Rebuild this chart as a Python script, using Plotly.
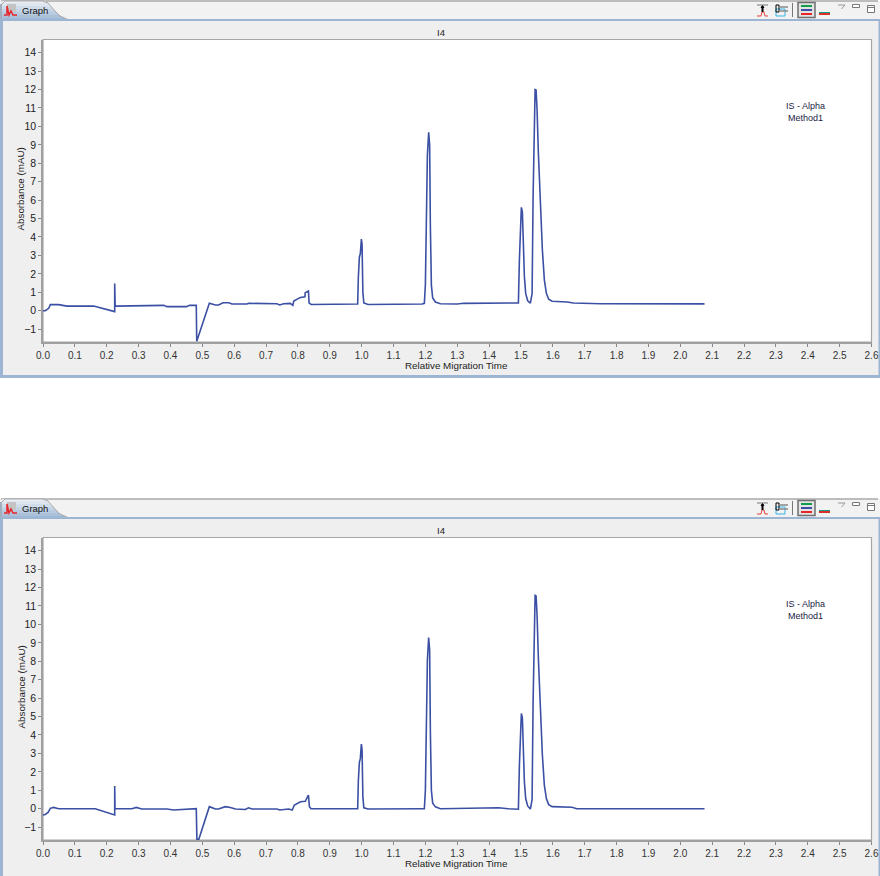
import plotly.graph_objects as go

W, H = 880, 876
OFFSET = 498
FONT = "Liberation Sans"
LINE = "#3b50a4"

title = "I4"
x_title = "Relative Migration Time"
y_title = "Absorbance (mAU)"
legend_lines = ["IS - Alpha", "Method1"]
x_ticks = [round(i * 0.1, 1) for i in range(27)]
y_ticks = list(range(-1, 15))

x_upper = [0, .007, .018, .023, .049, .075, .159, .222, .225, .225, .2265, .379, .389, .45, .46, .481, .4825, .522,
           .541, .551, .565, .583, .593, .64, .645, .734, .743, .755, .776, .784, .787, .802, .808, .822, .823, .833,
           .835, .841, .986,
           .9875, .9896, .9928, .9959, .9991, 1.0013, 1.0038, 1.0069, 1.02, 1.19,
           1.1968, 1.2, 1.2031, 1.2063, 1.2103, 1.2134, 1.2156, 1.2188, 1.2229, 1.2314, 1.2471,
           1.30, 1.32, 1.45,
           1.4919, 1.495, 1.4981, 1.5012, 1.5044, 1.5066, 1.5107, 1.5148, 1.521, 1.5295, 1.5349, 1.538, 1.5411, 1.5443,
           1.5474, 1.5505, 1.5546, 1.5609, 1.5672, 1.5734, 1.5797, 1.5869, 1.5976,
           1.6447, 1.6644, 1.75, 2.076]
y_upper = [0, 0, .13, .33, .33, .25, .25, -.05, -.05, 1.48, .25, .29, .22, .22, .29, .29, -1.66, .40,
           .31, .31, .43, .43, .36, .36, .40, .38, .31, .38, .40, .29, .52, .67, .72, .76, .98, 1.07,
           .43, .34, .36,
           .36, 1.8, 2.9, 3.1, 3.89, 3.6, 1.0, .42, .34, .36,
           .40, 1.39, 6.46, 8.45, 9.68, 8.99, 4.65, 1.39, .69, .47, .38,
           .36, .40, .40,
           .42, 2.75, 4.92, 5.61, 5.37, 4.0, 1.85, .94, .54, .41, .94, 6.18, 10.7, 12.0,
           11.97, 10.9, 8.55, 5.64, 3.29, 1.66, .94, .62, .51,
           .47, .42, .38, .37]

x_lower = [0, .007, .016, .023, .033, .049, .164, .225, .225, .226, .279, .293, .31, .389, .41, .441, .462, .481, .483,
           .489, .522, .541, .551, .572, .588, .604, .635, .645, .656, .734, .743, .771, .782, .789, .808, .823, .833,
           .836, .841, .986,
           .9875, .9896, .9928, .9959, .9991, 1.0013, 1.0038, 1.0069, 1.02, 1.19,
           1.1968, 1.2, 1.2031, 1.2063, 1.2103, 1.2134, 1.2156, 1.2188, 1.2229, 1.2314, 1.2471,
           1.345, 1.37, 1.385, 1.43, 1.46,
           1.4919, 1.495, 1.4981, 1.5012, 1.5044, 1.5066, 1.5107, 1.5148, 1.521, 1.5295, 1.5349, 1.538, 1.5411, 1.5443,
           1.5474, 1.5505, 1.5546, 1.5609, 1.5672, 1.5734, 1.5797, 1.5869, 1.5976,
           1.66, 1.675, 2.076]
y_lower = [-.34, -.31, -.2, .02, .07, 0, 0, -.34, 1.23, 0, 0, .07, -.02, -.02, -.07, -.05, 0, 0, -1.66,
           -1.66, .11, -.02, -.02, .11, .07, -.02, -.04, .05, -.02, -.02, -.07, -.02, -.07, .2, .38, .4, .74,
           .11, 0, 0,
           0, 1.5, 2.5, 2.73, 3.51, 3.2, .65, .05, -.02, 0,
           0, 1.0, 6.07, 8.06, 9.29, 8.6, 4.26, 1.0, .3, .1, 0,
           .03, 0, .03, .05, 0,
           -.03, 2.35, 4.5, 5.17, 4.93, 3.6, 1.45, .55, .15, -.02, .5, 5.78, 10.3, 11.57,
           11.54, 10.5, 8.15, 5.24, 2.9, 1.26, .55, .22, .11,
           .08, 0, 0]


def px_x(p):
    return p / W


def px_y(p):
    return 1 - p / H


shapes, annotations = [], []


def rect(x0, y0, x1, y1, fill=None, line=None, lw=1):
    shapes.append(dict(type="rect", xref="paper", yref="paper", x0=px_x(x0), x1=px_x(x1), y0=px_y(y0), y1=px_y(y1),
                       fillcolor=fill or "rgba(0,0,0,0)", line=dict(color=line or "rgba(0,0,0,0)", width=lw if line else 0),
                       layer="below"))


def poly(points, fill=None, line=None, lw=1):
    d = "M" + " L".join(f"{px_x(a):.5f},{px_y(b):.5f}" for a, b in points) + (" Z" if fill else "")
    shapes.append(dict(type="path", xref="paper", yref="paper", path=d, fillcolor=fill or "rgba(0,0,0,0)",
                       line=dict(color=line or "rgba(0,0,0,0)", width=lw if line else 0), layer="below"))


def text(x, y, s, size=10, color="#222222", angle=0, xanchor="center"):
    annotations.append(dict(xref="paper", yref="paper", x=px_x(x), y=px_y(y), text=s, showarrow=False, textangle=angle,
                            xanchor=xanchor, yanchor="middle", font=dict(family=FONT, size=size, color=color)))


def panel(o, bottom):
    rect(0, o + 1, W, bottom, fill="#efefef")
    rect(0, o + 1, W, o + 19, fill="#f2f2f2")
    poly([(1, o + 1), (W - 2, o + 1)], line="#a8a8a8", lw=1.5)
    rect(0, o + 19, W, o + 21, fill="#9db5d2")
    rect(0, o + 4, 3, bottom, fill="#9db5d2")
    rect(W - 1.5, o + 19, W, bottom, fill="#9db5d2")
    if bottom < H:
        rect(0, bottom - 3, W, bottom, fill="#9db5d2")
    # tab with a vertical gradient built from strips
    edge = [(1, 45), (3, 47), (6, 50), (9, 53), (12, 56), (15, 59), (18, 64), (20, 68)]
    for i in range(len(edge) - 1):
        y0, x0 = edge[i]
        y1, x1 = edge[i + 1]
        t = i / (len(edge) - 2)
        c = f"rgb({int(236 - 78 * t)},{int(240 - 56 * t)},{int(246 - 33 * t)})"
        poly([(2, o + y0), (x0, o + y0), (x1, o + y1), (2, o + y1)], fill=c)
    poly([(1, o + 19), (1, o + 5), (5, o + 1), (42, o + 1), (48, o + 3), (55, o + 11), (60, o + 16), (67, o + 19)],
         line="#a8a8a8", lw=1)
    # tab icon
    rect(7, o + 4, 16, o + 12, fill="#c4c4c4")
    poly([(4, o + 15), (7, o + 15), (7, o + 6), (9, o + 15), (11, o + 11), (13, o + 15), (17, o + 15)], line="#e8262a", lw=1.5)
    text(20, o + 10.5, "Graph", size=9.5, color="#111111", xanchor="left")
    # toolbar icons
    poly([(757, o + 5), (768, o + 5)], line="#777777")
    poly([(757, o + 16), (761, o + 16), (762, o + 12), (764, o + 12), (765, o + 16), (768, o + 16)], line="#e8413a")
    poly([(762.5, o + 12), (762.5, o + 6)], line="#000000", lw=2)
    poly([(760.5, o + 8), (762.5, o + 5), (764.5, o + 8)], fill="#000000")
    rect(776, o + 9, 785, o + 16, line="#33b5e5")
    rect(776, o + 5, 779, o + 12, line="#000000")
    poly([(779, o + 7), (788, o + 7)], line="#888888", lw=1.5)
    poly([(779, o + 11), (788, o + 11)], line="#888888", lw=1.5)
    poly([(792.5, o + 3), (792.5, o + 17)], line="#777777", lw=1)
    rect(798, o + 2.5, 815, o + 17.5, fill="#e3e3e3", line="#6f6f6f", lw=1.5)
    rect(801, o + 5, 812, o + 7, fill="#119c4c")
    rect(801, o + 9, 812, o + 11, fill="#3b50a4")
    rect(801, o + 13, 812, o + 15, fill="#e8262a")
    rect(819, o + 12, 830, o + 13, fill="#119c8c")
    rect(819, o + 13, 830, o + 15, fill="#d8322a")
    poly([(838, o + 5), (845, o + 5), (841.5, o + 9)], line="#999999")
    rect(852.5, o + 4.5, 859.5, o + 7.5, fill="#ffffff", line="#777777")
    rect(867.5, o + 5.5, 874.5, o + 12.5, fill="#ffffff", line="#777777")
    poly([(867.5, o + 7.5), (874.5, o + 7.5)], line="#777777")
    # plot frame parts and texts
    rect(43, o + 39.5, 871.5, o + 342, fill="#ffffff", line="#a6a6a6", lw=1.2)
    text(441, o + 32, title, size=9.5)
    for i, s in enumerate(legend_lines):
        text(805, o + 105.5 + 12 * i, s, size=9, color="#222244")
    text(456, o + 365.5, x_title, size=9.8)
    text(20.5, o + 189, y_title, size=9.8, angle=-90)


panel(0, 378)
panel(OFFSET, H + 2)

PX_PER_UNIT = 18.43


def y_domain(top, bottom):
    return [1 - bottom / H, 1 - top / H]


fig = go.Figure()
fig.add_trace(go.Scatter(x=x_upper, y=y_upper, mode="lines", line=dict(color=LINE, width=1.6), xaxis="x", yaxis="y",
                         showlegend=False, cliponaxis=True))
fig.add_trace(go.Scatter(x=x_lower, y=y_lower, mode="lines", line=dict(color=LINE, width=1.6), xaxis="x2", yaxis="y2",
                         showlegend=False, cliponaxis=True))

xcommon = dict(range=[0, 2.6], tickmode="array", tickvals=x_ticks, ticktext=[f"{v:.1f}" for v in x_ticks], ticks="outside",
               ticklen=3, tickcolor="#888888", showgrid=False, zeroline=False, showline=True, linecolor="#a0a0a0", linewidth=1.5,
               tickfont=dict(family=FONT, size=10, color="#333333"), automargin=False)
ycommon = dict(tickmode="array", tickvals=y_ticks, ticks="outside", ticklen=3, tickcolor="#888888", showgrid=False, zeroline=False,
               showline=True, linecolor="#a0a0a0", linewidth=1.5, tickfont=dict(family=FONT, size=10.5, color="#222222"), automargin=False)
xdomain = [43 / W, 871.5 / W]

fig.update_layout(
    width=W, height=H, margin=dict(l=0, r=0, t=0, b=0), paper_bgcolor="#ffffff", plot_bgcolor="rgba(0,0,0,0)",
    shapes=shapes, annotations=annotations, showlegend=False,
    xaxis=dict(domain=xdomain, anchor="y", **xcommon),
    yaxis=dict(domain=y_domain(39.5, 342), anchor="x", range=[(310.7 - 342) / PX_PER_UNIT, (310.7 - 39.5) / PX_PER_UNIT], **ycommon),
    xaxis2=dict(domain=xdomain, anchor="y2", **xcommon),
    yaxis2=dict(domain=y_domain(537.5, 840), anchor="x2", range=[(808.7 - 840) / PX_PER_UNIT, (808.7 - 537.5) / PX_PER_UNIT], **ycommon),
)
fig.write_html("out.html", config={"displayModeBar": False},
               post_script="document.body.style.margin='0';document.body.style.overflow='hidden';")
